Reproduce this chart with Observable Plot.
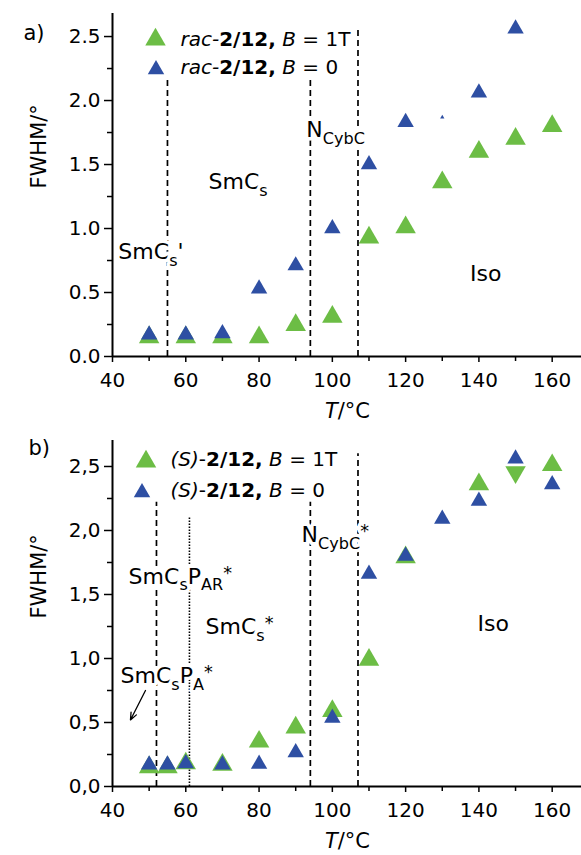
<!DOCTYPE html>
<html><head><meta charset="utf-8">
<script src="https://cdn.jsdelivr.net/npm/d3@7"></script>
<script src="https://cdn.jsdelivr.net/npm/@observablehq/plot@0.6"></script>
<style>
body{margin:0;background:#fff;}
#chart svg{display:block;}
</style>
</head><body><div id="chart"></div>
<script>
// ---------- data ----------
// panel a) rac-2/12
const temps_a = [50, 60, 70, 80, 90, 100, 110, 120, 130, 140, 150, 160];
const fwhm_a_1T = [0.15, 0.15, 0.15, 0.15, 0.245, 0.31, 0.93, 1.01, 1.36, 1.60, 1.70, 1.80];
const fwhm_a_0  = [0.17, 0.17, 0.18, 0.53, 0.71, 1.00, 1.50, 1.83, null, 2.06, 2.56, null];
const hidden_a_0 = [{T: 130, v: 1.87}]; // blue point almost fully hidden in the original

// panel b) (S)-2/12
const temps_b = [50, 55, 60, 70, 80, 90, 100, 110, 120, 130, 140, 150, 160];
const fwhm_b_1T = [0.15, 0.15, 0.18, 0.17, 0.35, 0.46, 0.59, 0.99, 1.79, null, 2.36, 2.455, 2.51];
const fwhm_b_0  = [0.17, 0.17, 0.18, 0.17, 0.175, 0.265, 0.535, 1.66, 1.80, 2.09, 2.23, 2.56, 2.36];
const flipped_b_1T = [150]; // drawn as downward triangle in the original

// phase boundaries (T, top of line in FWHM units)
const bound_a_T = [55, 94, 107];
const bound_a_top = [2.17, 2.16, 2.55];
const dashed_b_T = [52, 94, 107];
const dashed_b_top = [2.22, 2.22, 2.60];
const dotted_b_T = [61];
const dotted_b_top = [2.10];

// phase labels
const phase_a = ["SmC{sub:s}", "SmC{sub:s}'", "N{sub:CybC}", "Iso"];
const phase_a_T = [66.2, 41.6, 92.9, 137.6];
const phase_a_v = [1.363, 0.816, 1.77, 0.645];
const phase_b = ["SmC{sub:s}P{sub:AR}{sup:*}", "SmC{sub:s}{sup:*}", "SmC{sub:s}P{sub:A}{sup:*}", "N{sub:CybC}{sup:*}", "Iso"];
const phase_b_T = [44.4, 65.4, 42.2, 91.6, 139.6];
const phase_b_v = [1.64, 1.246, 0.863, 1.965, 1.27];
const arrow_b = [{x1: 49.0, y1: 0.75, x2: 44.9, y2: 0.52}];

// legends / ticks
const legend_a = ["{i:rac-}{b:2/12,} {i:B} = 1T", "{i:rac-}{b:2/12,} {i:B} = 0"];
const legend_b = ["{i:(S)}-{b:2/12,} {i:B} = 1T", "{i:(S)}-{b:2/12,} {i:B} = 0"];
const xMajor = [40, 60, 80, 100, 120, 140, 160];
const xMinor = [50, 70, 90, 110, 130, 150];
const yMajor = [0, 0.5, 1.0, 1.5, 2.0, 2.5];
const yMinor = [0.25, 0.75, 1.25, 1.75, 2.25];

// ---------- style ----------
const GREEN = "#6cbd45", BLUE = "#2e4fa3";
const RG = 7.6, RB = 6.1;
const FONT = "DejaVu Sans";

const rows = (temps, vals) => temps.map((T, i) => ({T, v: vals[i]})).filter(d => d.v != null);
const zipB = (ts, tops) => ts.map((T, i) => ({T, top: tops[i]}));
const zipL = (txt, ts, vs) => txt.map((t, i) => ({t, T: ts[i], v: vs[i]}));

function axes(fmt) {
  return [
    Plot.axisY({ticks: yMajor, tickSize: 8, tickPadding: 4, tickFormat: fmt, label: null, strokeWidth: 1.5, fontSize: 20}),
    Plot.axisY({ticks: yMinor, tickSize: 5, tickFormat: () => "", label: null, strokeWidth: 1.5}),
    Plot.axisX({ticks: xMajor, tickSize: 6, tickPadding: 10, tickFormat: d => String(d), label: null, strokeWidth: 1.5, fontSize: 20}),
    Plot.axisX({ticks: xMinor, tickSize: 5, tickFormat: () => "", label: null, strokeWidth: 1.5}),
    Plot.ruleX([40], {strokeWidth: 2}),
    Plot.ruleY([0], {strokeWidth: 2})
  ];
}
// fixed-position text (pixels relative to a frame anchor)
function label(str, anchor, dx, dy, opts = {}) {
  return Plot.text([str], {frameAnchor: anchor, dx, dy, text: d => d, lineAnchor: "middle", fontSize: 21, ...opts});
}
function legendMarks(texts, g, b) {
  return [
    Plot.dot([0], {frameAnchor: "top-left", dx: g[0], dy: g[1], symbol: "triangle", r: RG, fill: GREEN}),
    Plot.dot([0], {frameAnchor: "top-left", dx: b[0], dy: b[1], symbol: "triangle", r: RB, fill: BLUE}),
    label(texts[0], "top-left", g[2], g[3], {textAnchor: "start", fontSize: 20}),
    label(texts[1], "top-left", b[2], b[3], {textAnchor: "start", fontSize: 20})
  ];
}

const fmtDot = d => d.toFixed(1);
const fmtComma = d => d.toFixed(1).replace(".", ",");

// ---------- panel a ----------
const plotA = Plot.plot({
  width: 581, height: 430,
  marginLeft: 112, marginRight: 0, marginTop: 13, marginBottom: 74,
  x: {domain: [40, 168]},
  y: {domain: [0, 2.68]},
  style: {fontFamily: FONT, fontSize: "20px", background: "white", color: "black"},
  marks: [
    Plot.ruleX(zipB(bound_a_T, bound_a_top), {x: "T", y1: 0, y2: "top", strokeDasharray: "6,4", strokeWidth: 1.7}),
    Plot.text(zipL(phase_a, phase_a_T, phase_a_v), {x: "T", y: "v", text: "t", textAnchor: "start", lineAnchor: "middle", fontSize: 22, stroke: "white", strokeWidth: 7, fill: "black"}),
    Plot.dot(rows(temps_a, fwhm_a_1T), {x: "T", y: "v", symbol: "triangle", r: RG, fill: GREEN}),
    Plot.dot(hidden_a_0, {x: "T", y: "v", symbol: "triangle", r: 1.6, fill: BLUE}),
    Plot.dot(rows(temps_a, fwhm_a_0), {x: "T", y: "v", symbol: "triangle", r: RB, fill: BLUE}),
    ...axes(fmtDot),
    ...legendMarks(legend_a, [43, 26, 68, 26], [43.5, 56, 68, 54.5]),
    label("a)", "top-left", -89, 20),
    label("FWHM/°", "left", -73, 3.5, {rotate: -90}),
    label("{i:T}/°C", "bottom", 0.5, 54.5)
  ]
});

// ---------- panel b ----------
const plotB = Plot.plot({
  width: 581, height: 425,
  marginLeft: 112, marginRight: 0, marginTop: 10, marginBottom: 69,
  x: {domain: [40, 168]},
  y: {domain: [0, 2.703]},
  style: {fontFamily: FONT, fontSize: "20px", background: "white", color: "black"},
  marks: [
    Plot.ruleX(zipB(dashed_b_T, dashed_b_top), {x: "T", y1: 0, y2: "top", strokeDasharray: "6,4", strokeWidth: 1.7}),
    Plot.ruleX(zipB(dotted_b_T, dotted_b_top), {x: "T", y1: 0, y2: "top", strokeDasharray: "1.5,1.5", strokeWidth: 1.6}),
    Plot.text(zipL(phase_b, phase_b_T, phase_b_v), {x: "T", y: "v", text: "t", textAnchor: "start", lineAnchor: "middle", fontSize: 22, stroke: "white", strokeWidth: 7, fill: "black"}),
    Plot.arrow(arrow_b, {x1: "x1", y1: "y1", x2: "x2", y2: "y2", strokeWidth: 1.3, headLength: 9, headAngle: 45}),
    Plot.dot(rows(temps_b, fwhm_b_1T), {x: "T", y: "v", symbol: "triangle", r: RG, fill: GREEN,
      rotate: d => flipped_b_1T.includes(d.T) ? 180 : 0}),
    Plot.dot(rows(temps_b, fwhm_b_0), {x: "T", y: "v", symbol: "triangle", r: RB, fill: BLUE}),
    ...axes(fmtComma),
    ...legendMarks(legend_b, [33.5, 21, 58, 19], [29.5, 52, 58, 50]),
    label("b)", "top-left", -84, 7.5),
    label("FWHM/°", "left", -73, 5, {rotate: -90}),
    label("{i:T}/°C", "bottom", 0.5, 54.5)
  ]
});

const chart = document.getElementById("chart");
chart.appendChild(plotA);
chart.appendChild(plotB);

// ---------- rich text (italic / bold / sub / superscript) ----------
function richify(root) {
  root.querySelectorAll("text").forEach(el => {
    const t = el.textContent;
    if (!/\{(i|b|sub|sup):/.test(t)) return;
    const fs = parseFloat(getComputedStyle(el).fontSize) || 20;
    while (el.firstChild) el.removeChild(el.firstChild);
    el.style.whiteSpace = "pre";
    let cur = 0;
    for (const m of t.matchAll(/\{(\w+):([^}]*)\}|([^{]+)/g)) {
      const kind = m[1] || "n", str = m[1] ? m[2] : m[3];
      const ts = document.createElementNS("http://www.w3.org/2000/svg", "tspan");
      let target = 0;
      if (kind === "sub") { target = 0.3 * fs; ts.setAttribute("font-size", 0.73 * fs); }
      if (kind === "sup") { target = -0.22 * fs; ts.setAttribute("font-size", 0.8 * fs); }
      if (kind === "i") ts.setAttribute("font-style", "italic");
      if (kind === "b") ts.setAttribute("font-weight", "bold");
      if (target !== cur) ts.setAttribute("dy", target - cur);
      cur = target;
      ts.textContent = str;
      el.appendChild(ts);
    }
  });
}
richify(chart);
</script>
</body></html>
